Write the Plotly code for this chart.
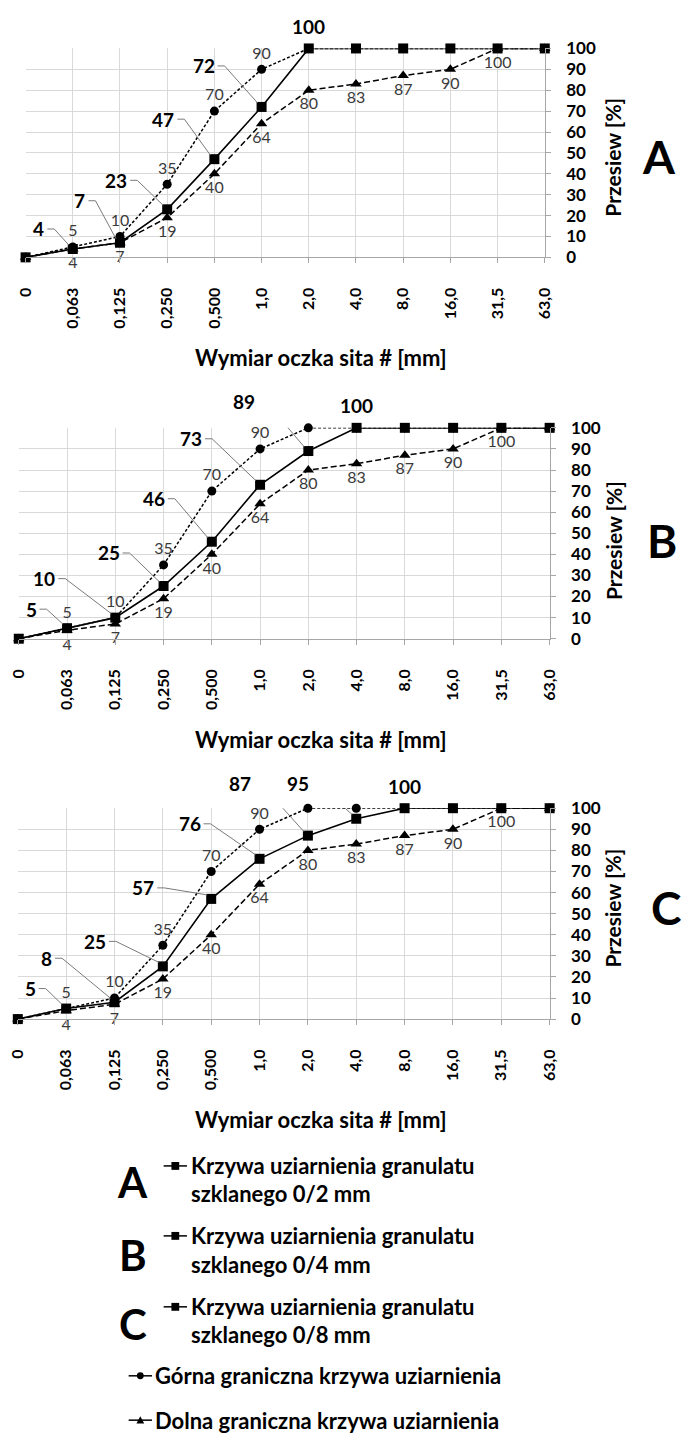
import plotly.graph_objects as go

# ---------------- data ----------------
CATEGORIES = ["0", "0,063", "0,125", "0,250", "0,500", "1,0", "2,0",
              "4,0", "8,0", "16,0", "31,5", "63,0"]
UPPER = [0, 5, 10, 35, 70, 90, 100, 100, 100, 100, 100, 100]
LOWER = [0, 4, 7, 19, 40, 64, 80, 83, 87, 90, 100, 100]
CURVE_A = [0, 4, 7, 23, 47, 72, 100, 100, 100, 100, 100, 100]
CURVE_B = [0, 5, 10, 25, 46, 73, 89, 100, 100, 100, 100, 100]
CURVE_C = [0, 5, 8, 25, 57, 76, 87, 95, 100, 100, 100, 100]
UPPER_LABELS = ["", "5", "10", "35", "70", "90", "", "", "", "", "", ""]
LOWER_LABELS = ["", "4", "7", "19", "40", "64", "80", "83", "87", "90", "100", ""]
PANEL_NAMES = ["A", "B", "C"]
X_TITLE = "Wymiar oczka sita # [mm]"
Y_TITLE = "Przesiew [%]"
LEGEND_CURVES = ["Krzywa uziarnienia granulatu", "szklanego 0/2 mm",
                 "szklanego 0/4 mm", "szklanego 0/8 mm"]
LEGEND_UPPER = "Górna graniczna krzywa uziarnienia"
LEGEND_LOWER = "Dolna graniczna krzywa uziarnienia"

# ---------------- layout / style ----------------
W, H = 685, 1441
FONT = "Lato"
GRID = "#d9d9d9"
AXIS = "#a6a6a6"
LEAD = "#7a7a7a"
LABEL_GREY = "#3a3a3a"


def px(x):
    return x / W


def py(y):
    return 1 - y / H


# per panel: plot-area box in pixels, label offsets (dx, dy screen px, text centre rel. point)
PANELS = [
    dict(curve=CURVE_A, box=(15, 549, 38, 250), top_idx=6,
         offs=[(-34, -20), (-40, -42), (-51, -29), (-51, -40), (-58, -41)],
         letter_x=667, letter_y=148),
    dict(curve=CURVE_B, box=(8, 554, 423, 637), top_idx=7,
         offs=[(-36, -19), (-71, -39), (-55, -33), (-58, -43), (-69, -46), (-64, -50)],
         letter_x=670, letter_y=537),
    dict(curve=CURVE_C, box=(7, 554, 809, 1023), top_idx=8,
         offs=[(-36, -20), (-68, -44), (-68, -25), (-68, -11), (-70, -35), (-68, -52), (-58, -35)],
         letter_x=674, letter_y=910),
]

fig = go.Figure()
annotations = []
shapes = []
layout = dict(width=W, height=H, margin=dict(l=0, r=0, t=0, b=0),
              paper_bgcolor="white", plot_bgcolor="white", showlegend=False,
              font=dict(family=FONT, color="#000000"))


def paper_text(x, y, text, size, anchor="center", angle=0, weight="bold"):
    annotations.append(dict(x=px(x), y=py(y), xref="paper", yref="paper", text=text,
                            showarrow=False, xanchor=anchor, yanchor="middle",
                            textangle=angle, borderpad=0,
                            font=dict(family=FONT, size=size, color="#000000", weight=weight)))


for i, p in enumerate(PANELS):
    s = "" if i == 0 else str(i + 1)
    xa, ya = "x" + s, "y" + s
    x0, x1, y0, y1 = p["box"]
    layout["xaxis" + s] = dict(
        domain=[px(x0), px(x1)], anchor=ya, type="category",
        categoryorder="array", categoryarray=CATEGORIES, range=[0, 11],
        showgrid=True, gridcolor=GRID, gridwidth=1, showline=True, linecolor=AXIS,
        ticks="outside", ticklen=5, tickcolor=AXIS, tickangle=-90,
        tickfont=dict(family=FONT, size=16, color="#000000", weight="bold"),
        ticklabelstandoff=18, fixedrange=True)
    layout["yaxis" + s] = dict(
        domain=[py(y1), py(y0)], anchor=xa, side="right", range=[0, 100],
        tick0=0, dtick=10, showgrid=True, gridcolor=GRID, showline=True,
        linecolor=AXIS, ticks="outside", ticklen=5, tickcolor=AXIS, zeroline=False,
        tickfont=dict(family=FONT, size=17, color="#000000", weight="bold"),
        ticklabelstandoff=12, fixedrange=True)

    fig.add_trace(go.Scatter(
        x=CATEGORIES, y=UPPER, xaxis=xa, yaxis=ya, mode="lines+markers+text",
        line=dict(color="#000000", width=1.5, dash="3px,2px"),
        marker=dict(symbol="circle", size=9, color="#000000"),
        text=UPPER_LABELS, textposition="top center",
        textfont=dict(family=FONT, size=16, color=LABEL_GREY), cliponaxis=False))
    fig.add_trace(go.Scatter(
        x=CATEGORIES, y=LOWER, xaxis=xa, yaxis=ya, mode="lines+markers+text",
        line=dict(color="#000000", width=1.5, dash="6px,3px"),
        marker=dict(symbol="triangle-up", size=10, color="#000000"),
        text=LOWER_LABELS, textposition="bottom center",
        textfont=dict(family=FONT, size=16, color=LABEL_GREY), cliponaxis=False))
    fig.add_trace(go.Scatter(
        x=CATEGORIES, y=p["curve"], xaxis=xa, yaxis=ya, mode="lines+markers",
        line=dict(color="#000000", width=1.6),
        marker=dict(symbol="square", size=10, color="#000000"), cliponaxis=False))

    # bold data labels with leader lines
    curve = p["curve"]
    for k, (dx, dy) in enumerate(p["offs"]):
        idx = k + 1
        val = curve[idx]
        txt = str(val)
        annotations.append(dict(x=CATEGORIES[idx], y=val, xref=xa, yref=ya, text=txt,
                                showarrow=False, xshift=dx, yshift=-dy,
                                xanchor="center", yanchor="middle",
                                font=dict(family=FONT, size=19, color="#000000", weight="bold")))
        hw = 5.5 * len(txt)
        sx = dx + hw + 3
        path = f"M {sx},{-dy} L {sx + 7},{-dy} L -4,4"
        shapes.append(dict(type="path", xref=xa, yref=ya, xsizemode="pixel", ysizemode="pixel",
                           xanchor=CATEGORIES[idx], yanchor=val, path=path,
                           line=dict(color=LEAD, width=1)))
    t = p["top_idx"]
    annotations.append(dict(x=CATEGORIES[t], y=curve[t], xref=xa, yref=ya, text=str(curve[t]),
                            showarrow=False, yshift=22, xanchor="center", yanchor="middle",
                            font=dict(family=FONT, size=19, color="#000000", weight="bold")))

    # titles and panel letter
    paper_text(319, y1 + 102, X_TITLE, 22)
    paper_text(619, p["letter_y"], Y_TITLE, 21, angle=-90)
    paper_text(p["letter_x"], p["letter_y"], PANEL_NAMES[i], 46)

# ---------------- custom legend ----------------
curve_rows = [(1188, 1172, 1200), (1262, 1243, 1272), (1332, 1315, 1343)]
for i, (ly, t1, t2) in enumerate(curve_rows):
    paper_text(125, ly, PANEL_NAMES[i], 42)
    paper_text(184, t1, LEGEND_CURVES[0], 22, anchor="left")
    paper_text(184, t2, LEGEND_CURVES[i + 1], 22, anchor="left")
    shapes.append(dict(type="line", xref="paper", yref="paper", x0=px(157), x1=px(181),
                       y0=py(t1), y1=py(t1), line=dict(color="#000000", width=1.5)))
    shapes.append(dict(type="rect", xref="paper", yref="paper", x0=px(165), x1=px(173),
                       y0=py(t1 + 4), y1=py(t1 - 4), line=dict(width=0), fillcolor="#000000"))

for ty, txt, sym in [(1385, LEGEND_UPPER, "circle"), (1430, LEGEND_LOWER, "triangle")]:
    paper_text(147, ty, txt, 22, anchor="left")
    shapes.append(dict(type="line", xref="paper", yref="paper", x0=px(121), x1=px(145),
                       y0=py(ty), y1=py(ty), line=dict(color="#000000", width=1.5)))
    if sym == "circle":
        shapes.append(dict(type="circle", xref="paper", yref="paper", x0=px(129.5), x1=px(136.5),
                           y0=py(ty + 3.5), y1=py(ty - 3.5), line=dict(width=0), fillcolor="#000000"))
    else:
        path = (f"M {px(129)},{py(ty + 3.5)} L {px(137)},{py(ty + 3.5)} "
                f"L {px(133)},{py(ty - 4)} Z")
        shapes.append(dict(type="path", xref="paper", yref="paper", path=path,
                           line=dict(width=0), fillcolor="#000000"))

layout["annotations"] = annotations
layout["shapes"] = shapes
fig.update_layout(**layout)
fig.write_html("out.html")
